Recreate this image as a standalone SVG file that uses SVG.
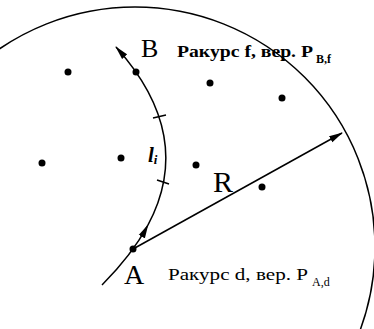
<svg xmlns="http://www.w3.org/2000/svg" width="374" height="329" viewBox="0 0 374 329">
<style>
.ln{fill:none;stroke:#000;stroke-width:1.5}
.dot{fill:#000}
.t{font-family:"Liberation Serif","Times New Roman",serif;fill:#000}
</style>
<defs>
<marker id="ah" viewBox="0 0 14 8" refX="13" refY="4" markerWidth="14" markerHeight="8" markerUnits="userSpaceOnUse" orient="auto">
<path d="M0,0.5 L14,4 L0,7.5 z" fill="#000"/>
</marker>
</defs>
<rect width="374" height="329" fill="#fff"/>
<g id="boundary">
<circle class="ln" cx="135" cy="247" r="240"/>
</g>
<g id="connectors">
<path class="ln" d="M102,285 Q132,255 147.9,225.2" marker-end="url(#ah)"/>
<path class="ln" d="M147.9,225.2 Q195.75,135.75 116,47" marker-end="url(#ah)"/>
<line class="ln" x1="133" y1="249" x2="342" y2="133" marker-end="url(#ah)"/>
<line class="ln" x1="153" y1="118" x2="166" y2="115"/>
<line class="ln" x1="157" y1="180" x2="169" y2="184"/>
</g>
<g id="points">
<circle class="dot" cx="68" cy="72" r="3.5"/>
<circle class="dot" cx="136" cy="72" r="3.5"/>
<circle class="dot" cx="210" cy="83" r="3.5"/>
<circle class="dot" cx="282" cy="98" r="3.5"/>
<circle class="dot" cx="42" cy="163" r="3.5"/>
<circle class="dot" cx="121" cy="158" r="3.5"/>
<circle class="dot" cx="196" cy="165" r="3.5"/>
<circle class="dot" cx="262" cy="187" r="3.5"/>
<circle class="dot" cx="133" cy="249" r="3.5"/>
</g>
<g id="B">
<text class="t" x="141" y="57" font-size="26">B</text>
<text class="t" x="177" y="57" font-size="17" font-weight="bold" textLength="136" lengthAdjust="spacingAndGlyphs">Ракурс f, вер. P</text>
<text class="t" x="316" y="63" font-size="12" font-weight="bold">B,f</text>
</g>
<g id="A">
<text class="t" x="124" y="284" font-size="28">A</text>
<text class="t" x="168" y="280" font-size="17" textLength="140" lengthAdjust="spacingAndGlyphs">Ракурс d, вер. P</text>
<text class="t" x="312" y="286" font-size="12">A,d</text>
</g>
<g id="li">
<text class="t" x="148" y="162" font-size="21" font-style="italic" font-weight="bold">l<tspan font-size="13" dy="2">i</tspan></text>
</g>
<g id="R">
<text class="t" x="213" y="192" font-size="30">R</text>
</g>
</svg>
